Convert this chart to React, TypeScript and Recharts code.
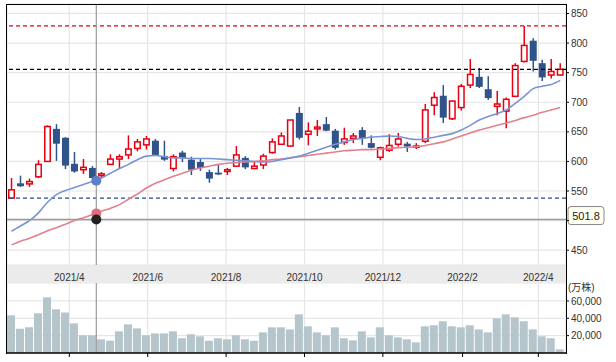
import { ComposedChart, Bar, Line, XAxis, YAxis, CartesianGrid, ReferenceLine, ReferenceDot } from 'recharts';

const DAY = 86400000;
const FIRST_WEEK = '2021-02-15';

// weekly OHLC (円)
const opens = [538, 563, 562, 574, 600, 655, 640, 596, 586, 589, 576, 595, 604, 611, 622, 628, 635, 609, 588, 615, 603, 599, 582, 581, 583, 592, 606, 588, 594, 615, 629, 626, 682, 646, 655, 663, 652, 632, 639, 653, 631, 607, 619, 629, 630, 624, 634, 695, 711, 672, 691, 729, 743, 722, 693, 685, 710, 769, 804, 766, 746, 746];
const highs = [572, 576, 571, 602, 661, 663, 641, 616, 604, 592, 582, 612, 612, 644, 638, 643, 638, 635, 612, 618, 608, 604, 586, 594, 589, 626, 609, 599, 613, 639, 649, 670, 692, 666, 670, 675, 655, 657, 648, 658, 644, 625, 646, 648, 633, 631, 697, 717, 729, 703, 731, 773, 758, 744, 719, 708, 766, 829, 808, 772, 773, 766];
const lows = [538, 557, 557, 572, 599, 601, 587, 581, 579, 570, 573, 594, 589, 604, 617, 620, 610, 601, 583, 599, 577, 584, 564, 577, 577, 591, 587, 587, 587, 613, 628, 625, 637, 627, 643, 651, 620, 628, 631, 628, 622, 602, 616, 625, 616, 621, 631, 678, 665, 670, 686, 724, 724, 704, 678, 656, 709, 767, 752, 736, 740, 745];
const closes = [552, 558, 566, 595, 659, 630, 593, 583, 590, 572, 579, 604, 608, 621, 633, 638, 611, 603, 608, 606, 586, 589, 571, 578, 586, 611, 590, 592, 609, 633, 643, 670, 640, 651, 658, 652, 623, 638, 643, 639, 623, 623, 627, 638, 625, 626, 687, 708, 674, 702, 727, 747, 726, 707, 697, 705, 762, 796, 770, 742, 752, 755.6];

// moving averages (13 / 26 week)
const ma13 = [482, 491, 500, 513, 531, 544, 551, 556, 561, 566, 572, 580, 588, 595, 603, 609, 610, 608, 606, 606, 605, 605, 605, 604, 603, 602, 601, 600, 599, 600, 603, 606, 609, 614, 619, 624, 629, 633, 637, 639, 641, 642, 643, 642, 639, 637, 638, 641, 644, 647, 653, 661, 670, 676, 681, 687, 698, 710, 723, 727, 730, 737];
const ma26 = [459, 465, 470, 476, 483, 488, 494, 500, 505, 510, 516, 521, 527, 536, 545, 555, 563, 569, 575, 580, 585, 589, 592, 595, 597, 598, 599, 600, 601, 603, 604, 606, 608, 610, 612, 614, 616, 618, 619, 620, 620, 621, 622, 623, 624, 625, 627, 630, 633, 638, 643, 648, 653, 657, 661, 665, 669, 674, 678, 683, 687, 691];

// volume (万株)
const volumes = [43400, 28000, 29600, 45800, 64200, 50400, 46800, 34200, 20400, 20400, 15800, 14200, 25000, 33000, 28400, 20400, 22600, 22600, 25000, 17000, 21600, 19200, 14200, 17000, 15800, 20400, 15800, 14200, 23800, 29600, 29600, 27200, 44600, 30800, 23800, 20400, 29600, 17000, 14600, 25000, 18000, 29600, 20400, 18000, 15800, 12300, 30800, 32000, 36600, 30800, 29600, 32000, 27200, 23800, 40000, 44600, 41200, 36600, 27200, 19200, 17000, 4200];

const monthTicks = ['2021-04-01', '2021-06-01', '2021-08-01', '2021-10-01', '2021-12-01', '2022-02-01', '2022-04-01'];
const priceTicks = [450, 500, 550, 600, 650, 700, 750, 800, 850];
const volumeTicks = [20000, 40000, 60000];

const cursorDate = '2021-04-22';
const cursorPrice = 501.8;
const cursorMa13 = 567.3;
const cursorMa26 = 512.2;

const UP = '#e60012';
const DOWN = '#30548a';
const FONT = "'Liberation Sans', Arial, 'Noto Sans CJK JP', sans-serif";

const t0 = Date.parse(FIRST_WEEK);
const rows = opens.map((o, i) => ({
  t: t0 + i * 7 * DAY,
  open: o,
  high: highs[i],
  low: lows[i],
  close: closes[i],
  ma13: ma13[i],
  ma26: ma26[i],
  vol: volumes[i],
}));
const xDomain = [rows[0].t - 3.5 * DAY, rows[rows.length - 1].t + 4.5 * DAY];
const tickTs = monthTicks.map(d => Date.parse(d));
const fmtMonth = (v: number) => {
  const d = new Date(v);
  return `${d.getUTCFullYear()}/${d.getUTCMonth() + 1}`;
};
const cursorT = Date.parse(cursorDate);
const maxHigh = Math.max(...highs);
const minLow = Math.min(...lows);
const lastClose = closes[closes.length - 1];

function Candle(props: any) {
  const { x, y, width, height, payload } = props;
  const top = Math.min(y, y + height);
  const h = Math.abs(height);
  const { open, close, high, low } = payload;
  const k = h / (high - low);
  const yO = top + (high - open) * k;
  const yC = top + (high - close) * k;
  const cx = x + width / 2;
  const up = close >= open;
  const color = up ? UP : DOWN;
  const bTop = Math.min(yO, yC);
  const bH = Math.max(Math.abs(yC - yO), 1.2);
  return (
    <g>
      <line x1={cx} x2={cx} y1={top} y2={top + h} stroke={color} strokeWidth={1.5} />
      {up ? (
        <rect x={x + 0.75} y={bTop} width={width - 1.5} height={bH} fill="#fff" stroke={color} strokeWidth={1.5} />
      ) : (
        <rect x={x} y={bTop} width={width} height={bH} fill={color} />
      )}
    </g>
  );
}

function PriceTag(props: any) {
  const vb = props.viewBox || {};
  const x = vb.x + vb.width + 2;
  const y = vb.y;
  return (
    <g>
      <rect x={x} y={y - 13} width={36} height={18} rx={3} fill="#fffff2" stroke="#888" strokeWidth={1} />
      <text x={x + 18} y={y} textAnchor="middle" fontSize={11} fill="#222" fontFamily={FONT}>{cursorPrice}</text>
    </g>
  );
}

export default function App() {
  const tickStyle = { fill: '#333', fontSize: 10 };
  return (
    <div style={{ position: 'absolute', left: 0, top: 0, width: 616, height: 362, background: '#fff', fontFamily: FONT }}>
      <div style={{ position: 'absolute', left: 7, top: 265, width: 559, height: 18, background: '#ebebeb' }} />
      <div style={{ position: 'absolute', left: 0, top: 0 }}>
        <ComposedChart width={616} height={283} data={rows} margin={{ top: 4, right: 0, bottom: 0, left: 7 }}>
          <CartesianGrid stroke="#e6e6e6" strokeWidth={1.2} />
          <XAxis dataKey="t" type="number" domain={xDomain} ticks={tickTs} allowDataOverflow interval={0}
            tickFormatter={fmtMonth} axisLine={false} tickLine={false} tickSize={0} tickMargin={9} height={18} tick={tickStyle} />
          <YAxis orientation="right" domain={[425, 866]} ticks={priceTicks} allowDataOverflow interval={0} width={50}
            tickFormatter={(v: number) => (v === 500 ? '' : String(v))} axisLine={false} tickLine={{ stroke: '#000' }} tickSize={3} tick={tickStyle} />
          <ReferenceLine y={maxHigh} stroke="#e60012" strokeDasharray="4 3" strokeWidth={1.2} />
          <ReferenceLine y={lastClose} stroke="#000" strokeDasharray="4 3" strokeWidth={1.2} />
          <ReferenceLine y={minLow} stroke="#1f4f8a" strokeDasharray="4 3" strokeWidth={1.2} />
          <Line dataKey="ma26" type="monotone" stroke="#e3808e" strokeWidth={1.6} dot={false} isAnimationActive={false} />
          <Line dataKey="ma13" type="monotone" stroke="#7894d4" strokeWidth={1.6} dot={false} isAnimationActive={false} />
          <Bar dataKey={(d: any) => [d.low, d.high]} barSize={7} shape={Candle} isAnimationActive={false} />
          <ReferenceLine x={cursorT} stroke="#9a9a9a" strokeWidth={1.2} />
          <ReferenceLine y={cursorPrice} stroke="#9a9a9a" strokeWidth={1.4} label={<PriceTag />} />
          <ReferenceDot x={cursorT} y={cursorMa13} r={5} fill="#5f80c8" stroke="none" />
          <ReferenceDot x={cursorT} y={cursorMa26} r={5} fill="#df6f80" stroke="none" />
          <ReferenceDot x={cursorT} y={cursorPrice} r={5} fill="#222" stroke="none" />
        </ComposedChart>
      </div>
      <div style={{ position: 'absolute', left: 0, top: 283 }}>
        <ComposedChart width={616} height={76} data={rows} margin={{ top: 0, right: 0, bottom: 0, left: 7 }}>
          <CartesianGrid stroke="#e6e6e6" strokeWidth={1.2} />
          <XAxis dataKey="t" type="number" domain={xDomain} ticks={tickTs} allowDataOverflow interval={0}
            tickFormatter={() => ''} axisLine={{ stroke: '#000', strokeWidth: 1.5 }} tickLine={{ stroke: '#000' }} tickSize={4} height={6} />
          <YAxis orientation="right" domain={[0, 80700]} ticks={volumeTicks} allowDataOverflow interval={0} width={50}
            tickFormatter={(v: number) => v.toLocaleString('en-US')} axisLine={false} tickLine={{ stroke: '#000' }} tickSize={3} tick={tickStyle} />
          <Bar dataKey="vol" barSize={8} fill="#b5c5cc" isAnimationActive={false} />
          <ReferenceLine x={cursorT} stroke="#9a9a9a" strokeWidth={1.2} />
        </ComposedChart>
      </div>
      <div style={{ position: 'absolute', left: 568, top: 279, fontSize: 10, color: '#333' }}>(万株)</div>
      <div style={{ position: 'absolute', left: 6, top: 4, width: 561, height: 350, boxSizing: 'border-box', borderLeft: '1.5px solid #000', borderTop: '1.5px solid #000', borderRight: '1.5px solid #000', pointerEvents: 'none' }} />
    </div>
  );
}
